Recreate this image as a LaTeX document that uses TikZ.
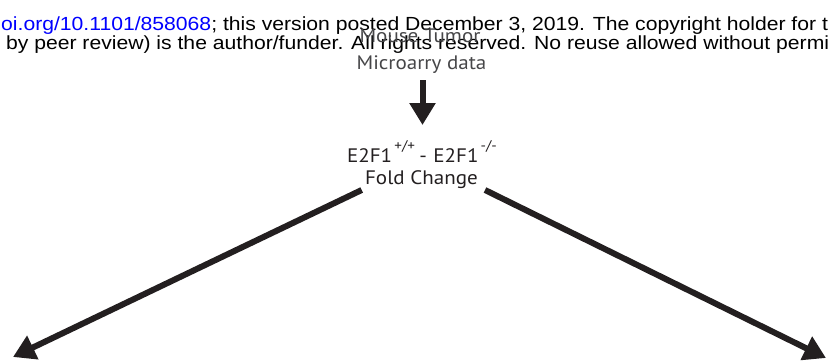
\documentclass[tikz,border=0pt]{standalone}
\usepackage{fontspec}
\usepackage{graphicx}
\setmainfont{PT Sans}
\newfontfamily\hdrfont{Liberation Sans}
\usetikzlibrary{arrows.meta}
\definecolor{linkblue}{RGB}{0,0,255}
\definecolor{ink}{RGB}{35,31,32}
\definecolor{graytxt}{RGB}{70,70,72}
\newcommand{\hwide}[1]{\scalebox{1.113}[1]{#1}}
\newcommand{\mwide}[1]{\scalebox{1.08}[1]{#1}}
\newcommand{\supr}[1]{\raisebox{12pt}{\fontsize{14}{14}\selectfont #1}}
\begin{document}
\begin{tikzpicture}[x=1pt,y=-1pt,
  hdr/.style={font=\hdrfont\fontsize{19}{19}\selectfont, anchor=base west, inner sep=0pt, text=black},
  lbl/.style={font=\fontsize{19.5}{19.5}\selectfont, anchor=base, inner sep=0pt, text=ink},
  graylbl/.style={lbl, text=graytxt},
  thickarrow/.style={line width=6pt, draw=ink, -{Triangle[length=22pt,width=25pt]}}]
\useasboundingbox (0,0) rectangle (829,362);
\begin{scope}
\clip (0,0) rectangle (829,362);
\node[hdr] (h1) at (1,30.7) {\hwide{\textcolor{linkblue}{oi.org/10.1101/858068}; this version posted December 3, 2019. The copyright holder for t}};
\node[hdr] (h2) at (0,49.3) {\hwide{\ by peer review) is the author/funder. All rights reserved. No reuse allowed without permi}};
\end{scope}
\node[graylbl] (src1) at (420,42.3) {\mwide{Mouse Tumor}};
\node[graylbl] (src2) at (421.5,69.3) {\mwide{Microarry data}};
\node[lbl] (e2f) at (422,162.7) {\mwide{E2F1\hspace{2pt}\supr{+/+}\hspace{4pt}-\hspace{6pt}E2F1\hspace{2pt}\supr{-/-}}};
\node[lbl] (fc) at (421.5,184.3) {\mwide{Fold Change}};
\coordinate (d0) at (422.5,80);
\coordinate (d1) at (422.5,125);
\coordinate (l0) at (361.7,190);
\coordinate (l1) at (13,357);
\coordinate (r0) at (485,190);
\coordinate (r1) at (826,358);
\draw[thickarrow] (d0) -- (d1);
\draw[thickarrow] (l0) -- (l1);
\draw[thickarrow] (r0) -- (r1);
\end{tikzpicture}
\end{document}
